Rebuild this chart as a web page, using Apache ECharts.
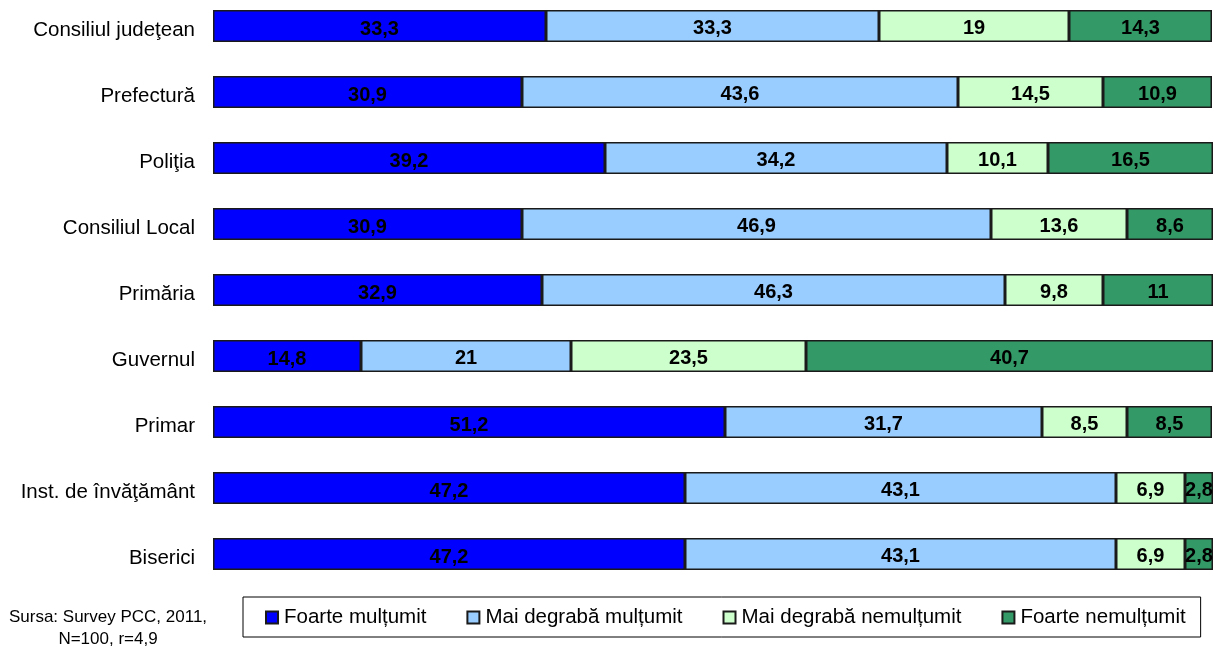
<!DOCTYPE html>
<html>
<head>
<meta charset="utf-8">
<script src="https://cdn.jsdelivr.net/npm/echarts@6/dist/echarts.min.js"></script>
<style>html,body{margin:0;padding:0;background:#fff;overflow:hidden;}#c{width:1214px;height:654px;margin-top:-7px;}</style>
</head>
<body>
<div id="c"></div>
<script>
const categories = ['Consiliul judeţean','Prefectură','Poliţia','Consiliul Local','Primăria','Guvernul','Primar','Inst. de învăţământ','Biserici'];
const seriesNames = ['Foarte mulțumit','Mai degrabă mulțumit','Mai degrabă nemulțumit','Foarte nemulțumit'];
const foarteMultumit = [33.3, 30.9, 39.2, 30.9, 32.9, 14.8, 51.2, 47.2, 47.2];
const maiDegrabaMultumit = [33.3, 43.6, 34.2, 46.9, 46.3, 21, 31.7, 43.1, 43.1];
const maiDegrabaNemultumit = [19, 14.5, 10.1, 13.6, 9.8, 23.5, 8.5, 6.9, 6.9];
const foarteNemultumit = [14.3, 10.9, 16.5, 8.6, 11, 40.7, 8.5, 2.8, 2.8];
const sourceText = 'Sursa: Survey PCC, 2011,\nN=100, r=4,9';

const colors = ['#0000FF', '#99CCFF', '#CCFFCC', '#339966'];
const values = [foarteMultumit, maiDegrabaMultumit, maiDegrabaNemultumit, foarteNemultumit];
const FONT = "'Liberation Sans', Arial, sans-serif";

const chart = echarts.init(document.getElementById('c'), null, {renderer: 'canvas'});
chart.setOption({
  animation: false,
  textStyle: {fontFamily: FONT},
  grid: {left: 213, width: 1000, top: 0, height: 594, containLabel: false},
  xAxis: {type: 'value', min: 0, max: 100, show: false, splitLine: {show: false}},
  yAxis: {
    type: 'category', data: categories, inverse: true,
    axisLine: {show: false}, axisTick: {show: false},
    axisLabel: {
      margin: 18,
      formatter: v => '{c|' + v + '}',
      rich: {c: {fontSize: 20.5, color: '#000', fontFamily: FONT, padding: [8, 0, 0, 0]}}
    }
  },
  legend: {
    left: 243, top: 604,
    padding: [10, 15, 9, 22],
    itemGap: 40,
    itemWidth: 12, itemHeight: 12,
    icon: 'rect',
    borderColor: '#000', borderWidth: 1,
    textStyle: {fontSize: 20.5, color: '#000', fontFamily: FONT, padding: [0, 0, 0, 1]},
    data: seriesNames
  },
  graphic: [{
    type: 'text', x: 108, y: 613,
    style: {text: sourceText, fill: '#000', font: "17px 'Liberation Sans', Arial, sans-serif", textAlign: 'center', lineHeight: 22}
  }],
  series: values.map((v, i) => ({
    name: seriesNames[i],
    type: 'bar', stack: 'total',
    barWidth: 32,
    data: v,
    itemStyle: {color: colors[i], borderColor: '#1a1a1a', borderWidth: 1.5},
    label: {
      show: true, position: 'inside', color: '#000', fontWeight: 'bold', fontSize: 20,
      fontFamily: FONT, offset: [0, i === 0 ? 3 : 2],
      formatter: p => String(p.value).replace('.', ',')
    }
  }))
});
</script>
</body>
</html>
